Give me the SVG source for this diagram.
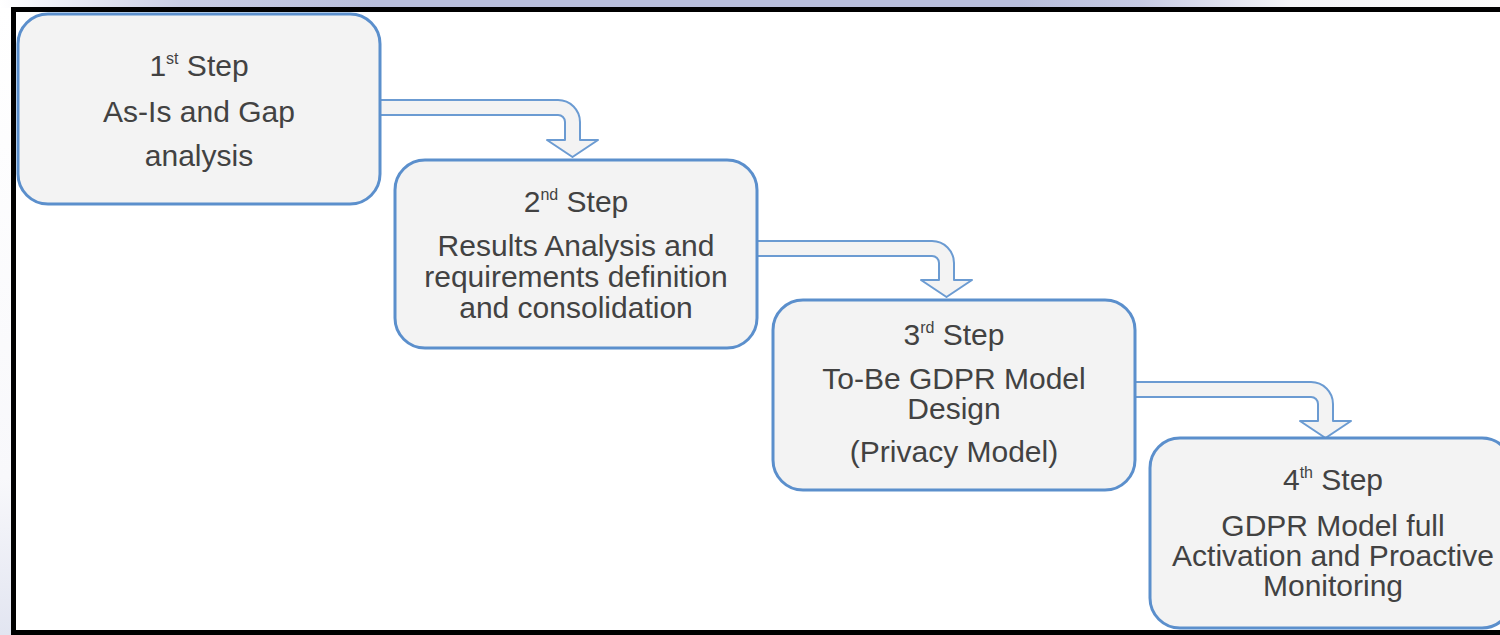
<svg xmlns="http://www.w3.org/2000/svg" width="1500" height="635" viewBox="0 0 1500 635">
  <defs>
    <linearGradient id="topBand" x1="0" y1="0" x2="1" y2="0">
      <stop offset="0" stop-color="#ffffff"/>
      <stop offset="0.12" stop-color="#c9cde4"/>
      <stop offset="0.25" stop-color="#b8bedb"/>
      <stop offset="0.68" stop-color="#b8bedb"/>
      <stop offset="0.76" stop-color="#c6cae3"/>
      <stop offset="0.86" stop-color="#f4f4f7"/>
      <stop offset="1" stop-color="#fafafa"/>
    </linearGradient>
    <linearGradient id="leftBand" x1="0" y1="0" x2="0" y2="1">
      <stop offset="0" stop-color="#ffffff"/>
      <stop offset="0.75" stop-color="#f8f8fb"/>
      <stop offset="1" stop-color="#e2e5f1"/>
    </linearGradient>
  </defs>
  <style>
    .box { fill: #f3f3f3; stroke: #5b8fcc; stroke-width: 3; }
    .flow { fill: #f3f3f3; stroke: #6b9bd2; stroke-width: 2; stroke-linejoin: round; }
    .lbl { font-family: "Liberation Sans", Arial, sans-serif; font-size: 30px; fill: #424242; text-anchor: middle; }
    .sup { font-size: 16px; }
  </style>

  <!-- page background and frame -->
  <rect x="0" y="0" width="1500" height="635" fill="#ffffff"/>
  <rect x="0" y="0" width="1500" height="8" fill="url(#topBand)"/>
  <rect x="0" y="8" width="11" height="627" fill="url(#leftBand)"/>
  <rect x="11" y="7" width="1489" height="5" fill="#000000"/>
  <rect x="11" y="7" width="5" height="628" fill="#000000"/>
  <rect x="11" y="630" width="1489" height="5" fill="#000000"/>

  <!-- block arrows between steps -->
  <g id="connectors">
    <path class="flow" d="M378,100 H558 A22,22 0 0 1 580,122 V140 H598 L572.5,157 L547,140 H565 V122 A7,7 0 0 0 558,115 H378 Z"/>
    <path class="flow" d="M755,241 H932 A22,22 0 0 1 954,263 V280 H972 L946.5,297 L921,280 H939 V263 A7,7 0 0 0 932,256 H755 Z"/>
    <path class="flow" d="M1133,382 H1311 A22,22 0 0 1 1333,404 V421 H1351 L1325.5,438 L1300,421 H1318 V404 A7,7 0 0 0 1311,397 H1133 Z"/>
  </g>

  <g id="step1">
    <rect class="box" x="18" y="14" width="362" height="190" rx="30" ry="30"/>
    <text class="lbl" x="199" y="76">1<tspan class="sup" dy="-12">st</tspan><tspan dy="12"> Step</tspan></text>
    <text class="lbl" x="199" y="122">As-Is and Gap</text>
    <text class="lbl" x="199" y="166">analysis</text>
  </g>

  <g id="step2">
    <rect class="box" x="395" y="160" width="362" height="188" rx="30" ry="30"/>
    <text class="lbl" x="576" y="212">2<tspan class="sup" dy="-12">nd</tspan><tspan dy="12"> Step</tspan></text>
    <text class="lbl" x="576" y="256">Results Analysis and</text>
    <text class="lbl" x="576" y="287">requirements definition</text>
    <text class="lbl" x="576" y="318">and consolidation</text>
  </g>

  <g id="step3">
    <rect class="box" x="773" y="300" width="362" height="190" rx="30" ry="30"/>
    <text class="lbl" x="954" y="345">3<tspan class="sup" dy="-12">rd</tspan><tspan dy="12"> Step</tspan></text>
    <text class="lbl" x="954" y="389">To-Be GDPR Model</text>
    <text class="lbl" x="954" y="419">Design</text>
    <text class="lbl" x="954" y="462">(Privacy Model)</text>
  </g>

  <g id="step4">
    <rect class="box" x="1150" y="438" width="362" height="190" rx="30" ry="30"/>
    <text class="lbl" x="1333" y="490">4<tspan class="sup" dy="-12">th</tspan><tspan dy="12"> Step</tspan></text>
    <text class="lbl" x="1333" y="536">GDPR Model full</text>
    <text class="lbl" x="1333" y="566">Activation and Proactive</text>
    <text class="lbl" x="1333" y="596">Monitoring</text>
  </g>
</svg>
